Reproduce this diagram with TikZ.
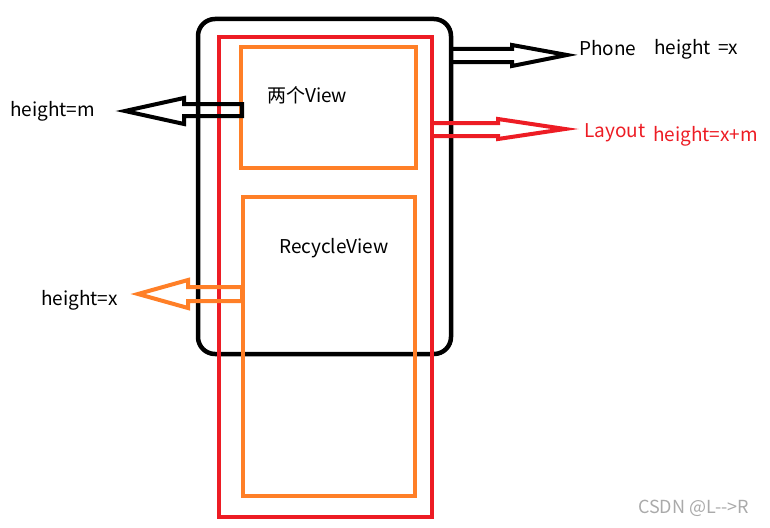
\documentclass[tikz,border=0pt]{standalone}
\usepackage{fontspec}
\setmainfont{Noto Sans CJK SC}
\definecolor{pred}{RGB}{237,28,36}
\definecolor{porange}{RGB}{255,127,39}
\definecolor{wm}{RGB}{170,170,170}
\begin{document}
\begin{tikzpicture}[x=1pt,y=-1pt,
  lbl/.style={inner sep=0pt,anchor=west,font=\fontsize{19}{21}\selectfont},
  blk/.style={draw=black,line width=4.5pt},
  redbox/.style={draw=pred,line width=4pt},
  orbox/.style={draw=porange,line width=4pt},
  barrow/.style={line width=4pt,line join=miter,miter limit=10}]
\useasboundingbox (0,0) rectangle (770,527);
% phone frame
\draw[blk,rounded corners=17pt] (198,19) rectangle (451,354);
% layout
\draw[redbox] (219,37) rectangle (432,517);
% views
\draw[orbox] (241,47) rectangle (416,168);
\draw[orbox] (243,197) rectangle (415,496);
% labels
\node[lbl] (phone) at (579,48) {Phone};
\node[lbl] (phoneh) at (654,49) {height\,\ =x};
\node[lbl,text=pred] (layout) at (584,133) {Layout};
\node[lbl,text=pred] (layouth) at (653,136) {height=x+m};
\node[lbl] (hm) at (10,111) {height=m};
\node[lbl] (hx) at (41,300) {height=x};
\node[lbl] (twoview) at (267,95) {两个View};
\node[lbl] (recycle) at (279,248) {RecycleView};
\node[inner sep=0pt,anchor=west,text=wm,font=\fontsize{18}{20}\selectfont] (wmk) at (638,508) {CSDN @L{-}{-}>R};
% arrows
\draw[barrow,draw=pred] (432,123) -- (498,123) -- (498,119) -- (565,129) -- (498,139) -- (498,136) -- (432,136);
\draw[barrow,draw=black] (451,49) -- (512,49) -- (512,45) -- (567,55) -- (512,66) -- (512,62) -- (451,62);
\draw[barrow,draw=black] (242,104) -- (184,104) -- (184,98) -- (125,111) -- (184,124) -- (184,116) -- (242,116) -- cycle;
\draw[barrow,draw=porange] (242,287) -- (188,287) -- (188,280) -- (138,294) -- (188,308) -- (188,301) -- (242,301) -- cycle;
\end{tikzpicture}
\end{document}
